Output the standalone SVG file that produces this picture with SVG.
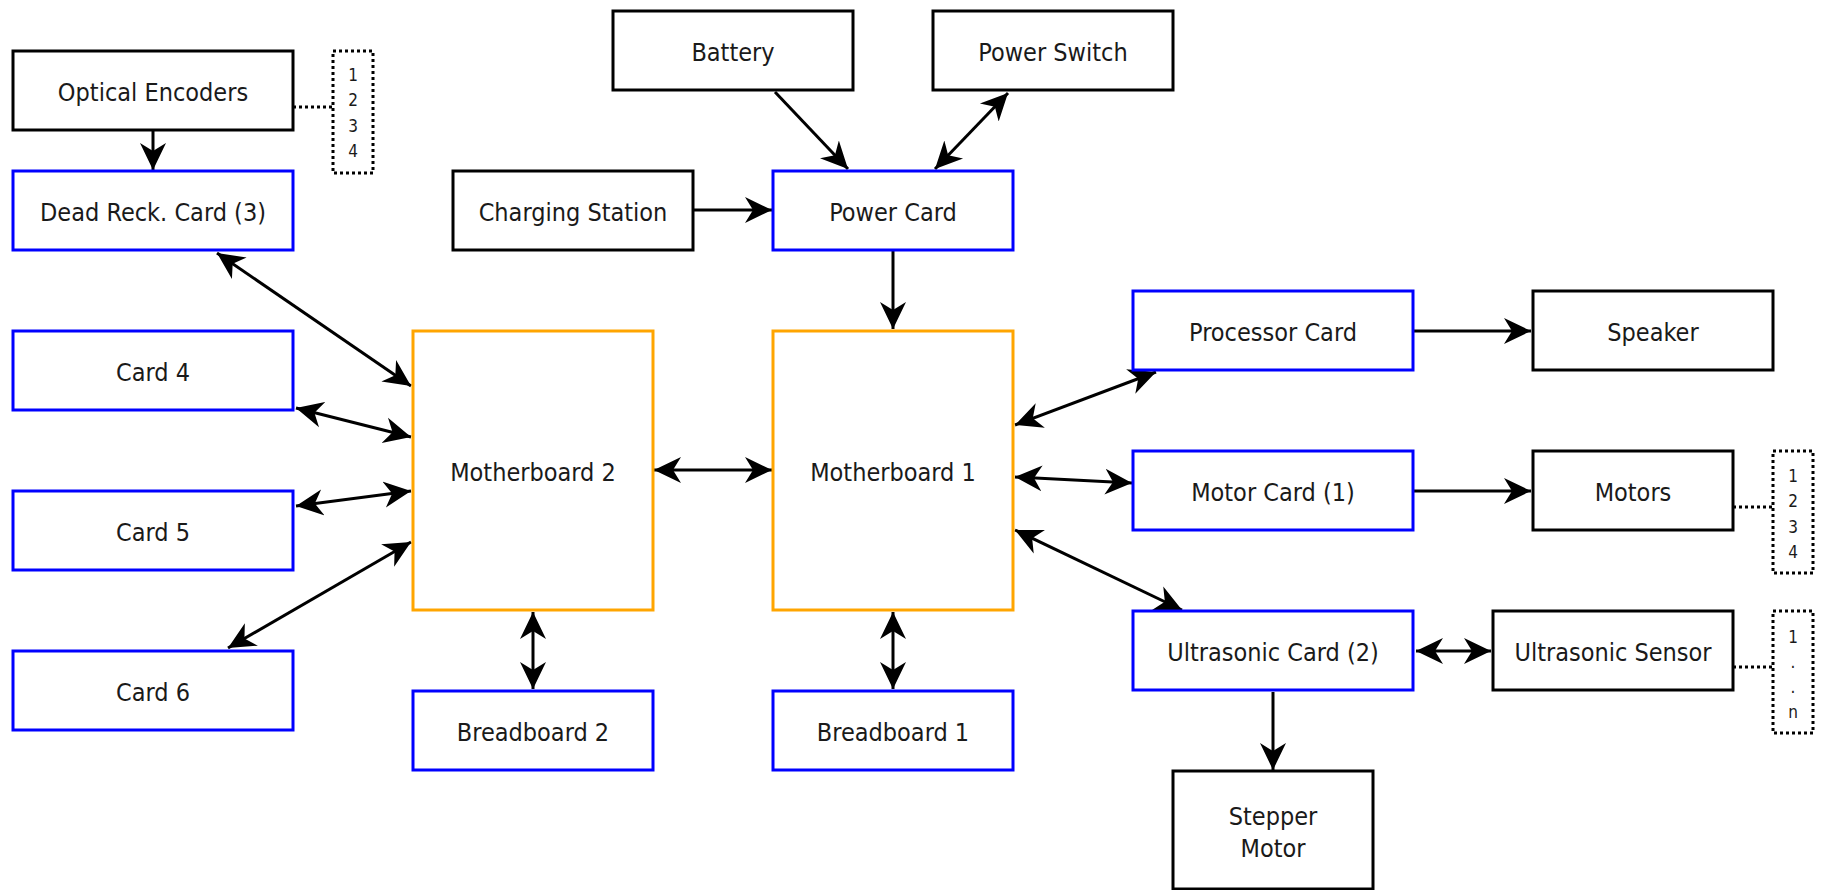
<svg xmlns="http://www.w3.org/2000/svg" width="1831" height="890" viewBox="0 0 1831 890">
<defs>
<style>
.b{fill:#fff;stroke:#000;stroke-width:3}
.c{fill:#fff;stroke:#0000ff;stroke-width:3}
.m{fill:#fff;stroke:#ffa500;stroke-width:3}
.d{fill:#fff;stroke:#000;stroke-width:3;stroke-dasharray:3 3}
.t{font-family:"DejaVu Sans Condensed","DejaVu Sans",sans-serif;font-stretch:condensed;font-size:25px;fill:#1a1a1a;text-anchor:middle}
.n{font-family:"DejaVu Sans Condensed","DejaVu Sans",sans-serif;font-stretch:condensed;font-size:17px;fill:#1a1a1a;text-anchor:middle}
.e{fill:none;stroke:#000;stroke-width:3}
.a{marker-end:url(#ah)}
.aa{marker-end:url(#ah);marker-start:url(#ah)}
.dl{fill:none;stroke:#000;stroke-width:3;stroke-dasharray:3 3}
</style>
<marker id="ah" markerUnits="userSpaceOnUse" markerWidth="28" markerHeight="28" viewBox="0 0 28 28" refX="27" refY="14" orient="auto-start-reverse">
<path d="M0,1 L27,14 L0,27 L8,14 z" fill="#000"/>
</marker>
</defs>
<rect width="1831" height="890" fill="#fff"/>
<g id="connectors">
<line class="e a" x1="153" y1="131" x2="153" y2="170"/>
<line class="e a" x1="775" y1="92" x2="848" y2="169"/>
<line class="e aa" x1="1008" y1="93" x2="935" y2="169"/>
<line class="e a" x1="694" y1="210" x2="772" y2="210"/>
<line class="e a" x1="893" y1="251" x2="893" y2="329"/>
<line class="e aa" x1="217" y1="253" x2="411" y2="386"/>
<line class="e aa" x1="296" y1="408" x2="411" y2="437"/>
<line class="e aa" x1="296" y1="506" x2="411" y2="491"/>
<line class="e aa" x1="228" y1="648" x2="411" y2="542"/>
<line class="e aa" x1="654" y1="470" x2="772" y2="470"/>
<line class="e aa" x1="533" y1="612" x2="533" y2="689"/>
<line class="e aa" x1="893" y1="612" x2="893" y2="689"/>
<line class="e aa" x1="1015" y1="425" x2="1156" y2="372"/>
<line class="e aa" x1="1015" y1="477" x2="1132" y2="483"/>
<line class="e aa" x1="1015" y1="530" x2="1182" y2="610"/>
<line class="e a" x1="1414" y1="331" x2="1531" y2="331"/>
<line class="e a" x1="1414" y1="491" x2="1531" y2="491"/>
<line class="e aa" x1="1416" y1="651" x2="1491" y2="651"/>
<line class="e a" x1="1273" y1="692" x2="1273" y2="770"/>
<line class="dl" x1="293" y1="107" x2="333" y2="107"/>
<line class="dl" x1="1733" y1="507" x2="1773" y2="507"/>
<line class="dl" x1="1733" y1="667" x2="1773" y2="667"/>
</g>
<g id="optical-encoders"><rect class="b" x="13" y="51" width="280" height="79"/><text class="t" x="153" y="101">Optical Encoders</text></g>
<g id="encoders-list"><rect class="d" x="333" y="51" width="40" height="122"/><text class="n" x="353" y="81">1</text><text class="n" x="353" y="106">2</text><text class="n" x="353" y="132">3</text><text class="n" x="353" y="157">4</text></g>
<g id="dead-reck-card"><rect class="c" x="13" y="171" width="280" height="79"/><text class="t" x="153" y="221">Dead Reck. Card (3)</text></g>
<g id="card4"><rect class="c" x="13" y="331" width="280" height="79"/><text class="t" x="153" y="381">Card 4</text></g>
<g id="card5"><rect class="c" x="13" y="491" width="280" height="79"/><text class="t" x="153" y="541">Card 5</text></g>
<g id="card6"><rect class="c" x="13" y="651" width="280" height="79"/><text class="t" x="153" y="701">Card 6</text></g>
<g id="charging-station"><rect class="b" x="453" y="171" width="240" height="79"/><text class="t" x="573" y="221">Charging Station</text></g>
<g id="battery"><rect class="b" x="613" y="11" width="240" height="79"/><text class="t" x="733" y="61">Battery</text></g>
<g id="power-switch"><rect class="b" x="933" y="11" width="240" height="79"/><text class="t" x="1053" y="61">Power Switch</text></g>
<g id="power-card"><rect class="c" x="773" y="171" width="240" height="79"/><text class="t" x="893" y="221">Power Card</text></g>
<g id="motherboard2"><rect class="m" x="413" y="331" width="240" height="279"/><text class="t" x="533" y="481">Motherboard 2</text></g>
<g id="motherboard1"><rect class="m" x="773" y="331" width="240" height="279"/><text class="t" x="893" y="481">Motherboard 1</text></g>
<g id="breadboard2"><rect class="c" x="413" y="691" width="240" height="79"/><text class="t" x="533" y="741">Breadboard 2</text></g>
<g id="breadboard1"><rect class="c" x="773" y="691" width="240" height="79"/><text class="t" x="893" y="741">Breadboard 1</text></g>
<g id="processor-card"><rect class="c" x="1133" y="291" width="280" height="79"/><text class="t" x="1273" y="341">Processor Card</text></g>
<g id="speaker"><rect class="b" x="1533" y="291" width="240" height="79"/><text class="t" x="1653" y="341">Speaker</text></g>
<g id="motor-card"><rect class="c" x="1133" y="451" width="280" height="79"/><text class="t" x="1273" y="501">Motor Card (1)</text></g>
<g id="motors"><rect class="b" x="1533" y="451" width="200" height="79"/><text class="t" x="1633" y="501">Motors</text></g>
<g id="motors-list"><rect class="d" x="1773" y="451" width="40" height="122"/><text class="n" x="1793" y="482">1</text><text class="n" x="1793" y="507">2</text><text class="n" x="1793" y="533">3</text><text class="n" x="1793" y="558">4</text></g>
<g id="ultrasonic-card"><rect class="c" x="1133" y="611" width="280" height="79"/><text class="t" x="1273" y="661">Ultrasonic Card (2)</text></g>
<g id="ultrasonic-sensor"><rect class="b" x="1493" y="611" width="240" height="79"/><text class="t" x="1613" y="661">Ultrasonic Sensor</text></g>
<g id="sensor-list"><rect class="d" x="1773" y="611" width="40" height="122"/><text class="n" x="1793" y="643">1</text><text class="n" x="1793" y="668">.</text><text class="n" x="1793" y="693">.</text><text class="n" x="1793" y="718">n</text></g>
<g id="stepper-motor"><rect class="b" x="1173" y="771" width="200" height="118"/><text class="t" x="1273" y="825">Stepper</text><text class="t" x="1273" y="857">Motor</text></g>
</svg>
